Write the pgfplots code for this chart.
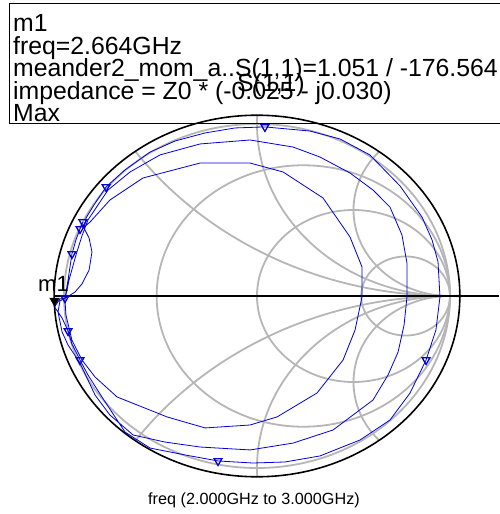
\documentclass[border=0pt]{standalone}
\usepackage{fontspec}
\setmainfont{Liberation Sans}
\usepackage{pgfplots}
\pgfplotsset{compat=1.18}
\definecolor{gridgray}{RGB}{182,182,182}
\definecolor{tracebl}{RGB}{0,0,215}
\begin{document}
\begin{tikzpicture}
\begin{axis}[
  width=499pt, height=514pt, scale only axis,
  xmin=-1.3316, xmax=1.2539, ymin=-1.2674, ymax=1.7209,
  hide axis, clip=false,
]
\coordinate (BL) at (rel axis cs:0,0);
\coordinate (TR) at (rel axis cs:1,1);
% Smith grid
\begin{scope}
\clip (axis cs:0,0) circle[radius=1.051];
\draw[gridgray, line width=1.8pt] (axis cs:0,0) circle[radius=1];
\draw[gridgray, line width=1.8pt] (axis cs:0.24,0) circle[radius=0.76];
\draw[gridgray, line width=1.8pt] (axis cs:0.5,0) circle[radius=0.5];
\draw[gridgray, line width=1.8pt] (axis cs:0.77,0) circle[radius=0.23];
\draw[gridgray, line width=1.8pt] (axis cs:1,2) circle[radius=2];
\draw[gridgray, line width=1.8pt] (axis cs:1,-2) circle[radius=2];
\draw[gridgray, line width=1.8pt] (axis cs:1,1) circle[radius=1];
\draw[gridgray, line width=1.8pt] (axis cs:1,-1) circle[radius=1];
\draw[gridgray, line width=1.8pt] (axis cs:1,0.5) circle[radius=0.5];
\draw[gridgray, line width=1.8pt] (axis cs:1,-0.5) circle[radius=0.5];
\end{scope}
\draw[black, line width=1.6pt] (axis cs:0,0) circle[radius=1.051];
\draw[black, line width=1.2pt] (axis cs:-1.051,0) -- (axis cs:1.2539,0);

% S(1,1) trace, 2.000 GHz to 3.000 GHz
\addplot[tracebl, line width=0.8pt] coordinates {
(-0.902,0.395) (-0.865,0.430) (-0.762,0.558) (-0.591,0.686) (-0.295,0.773)
(-0.036,0.773) (0.135,0.721) (0.342,0.570) (0.482,0.343) (0.544,0.169)
(0.544,-0.006) (0.508,-0.198) (0.446,-0.372) (0.311,-0.564) (0.104,-0.703)
(-0.036,-0.750) (-0.269,-0.767) (-0.466,-0.703) (-0.725,-0.587) (-0.839,-0.471)
(-0.907,-0.372) (-0.959,-0.256) (-0.990,-0.110) (-0.995,-0.023) (-0.974,0.093)
(-0.938,0.238) (-0.907,0.349)
(-0.876,0.442) (-0.772,0.616) (-0.658,0.721) (-0.503,0.820) (-0.295,0.884)
(-0.036,0.907) (0.187,0.866) (0.326,0.808) (0.482,0.715) (0.601,0.616)
(0.689,0.517) (0.751,0.355) (0.777,0.192) (0.777,-0.006) (0.762,-0.169)
(0.731,-0.326) (0.679,-0.459) (0.601,-0.605) (0.394,-0.779) (0.187,-0.855)
(-0.036,-0.895) (-0.295,-0.878) (-0.477,-0.849) (-0.642,-0.808) (-0.762,-0.692)
(-0.839,-0.576) (-0.917,-0.390) (-0.979,-0.285) (-1.010,-0.209) (-1.031,-0.093)
(-1.021,-0.029) (-0.984,-0.006)
(-0.943,0.023) (-0.907,0.070) (-0.870,0.151) (-0.855,0.256) (-0.870,0.337)
(-0.896,0.395)
(-0.886,0.453) (-0.845,0.529) (-0.782,0.634) (-0.684,0.733) (-0.554,0.837)
(-0.425,0.901) (-0.269,0.948) (-0.114,0.977) (0.041,0.983) (0.275,0.959)
(0.430,0.913) (0.585,0.820) (0.741,0.640) (0.855,0.459) (0.907,0.326)
(0.938,0.198) (0.948,-0.006) (0.927,-0.198) (0.876,-0.372) (0.793,-0.564)
(0.689,-0.721) (0.534,-0.837) (0.326,-0.930) (0.145,-0.965) (-0.021,-0.971)
(-0.202,-0.959) (-0.373,-0.924) (-0.554,-0.884) (-0.684,-0.791) (-0.793,-0.605)
(-0.876,-0.459) (-0.917,-0.372) (-0.959,-0.279) (-0.979,-0.203) (-1.010,-0.128)
(-1.049,-0.063) (-1.021,-0.017) (-0.995,-0.012) (-0.979,0.093) (-0.959,0.244)
(-0.938,0.326) (-0.917,0.390) (-0.902,0.430)
};
% trace symbols
\addplot[only marks, mark=triangle, mark size=4.5pt,
  mark options={tracebl, rotate=180, line width=1.3pt}] coordinates {
(-0.782,0.634) (0.041,0.983) (0.876,-0.372) (-0.202,-0.959) (-0.917,-0.372)
(-0.979,-0.203) (-0.995,-0.012) (-0.959,0.244) (-0.917,0.390) (-0.902,0.430)
};
% marker m1
\addplot[only marks, mark=triangle*, mark size=5.5pt,
  mark options={black, yshift=6pt, rotate=180}] coordinates {(-1.049,-0.063)};

% labels
\node[anchor=base west, inner sep=0pt, font=\fontsize{22}{24}\selectfont] at (rel axis cs:0.07615,0.43191) {m1};
\node[anchor=base west, inner sep=0pt, font=\fontsize{24.8}{26}\selectfont] at (rel axis cs:0.47495,0.82101) {S(1,1)};
\node[anchor=base, inner sep=0pt, font=\fontsize{16.2}{18}\selectfont] at (rel axis cs:0.50902,0.01751) {freq (2.000GHz to 3.000GHz)};

% marker readout box
\draw[black, line width=1pt] (rel axis cs:0.02004,0.99222) rectangle (rel axis cs:1.002,0.75875);
\begin{scope}[every node/.style={anchor=base west, inner sep=0pt, font=\fontsize{24.8}{26}\selectfont}]
\node at (rel axis cs:0.02605,0.93774) {m1};
\node at (rel axis cs:0.02605,0.89397) {freq=2.664GHz};
\node at (rel axis cs:0.02605,0.85019) {meander2\_mom\_a..S(1,1)=1.051 / -176.564};
\node at (rel axis cs:0.02605,0.80642) {impedance = Z0 * (-0.025 - j0.030)};
\node at (rel axis cs:0.02605,0.76265) {Max};
\end{scope}
\end{axis}
\pgfresetboundingbox
\useasboundingbox (BL) rectangle (TR);
\end{tikzpicture}
\end{document}
